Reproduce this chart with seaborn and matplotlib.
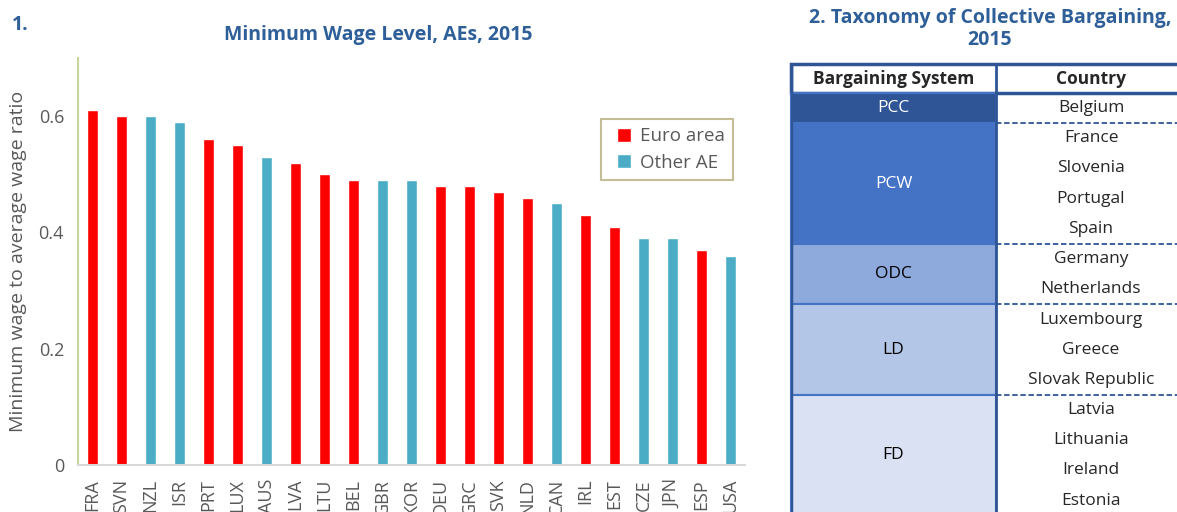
import matplotlib
matplotlib.use("Agg")
import matplotlib.pyplot as plt
import seaborn as sns
import pandas as pd
from matplotlib.patches import Rectangle
from matplotlib.lines import Line2D

# données du graphique 1
pays = ["FRA", "SVN", "NZL", "ISR", "PRT", "LUX", "AUS", "LVA", "LTU", "BEL", "GBR", "KOR",
        "DEU", "GRC", "SVK", "NLD", "CAN", "IRL", "EST", "CZE", "JPN", "ESP", "USA"]
ratio = [0.61, 0.60, 0.60, 0.59, 0.56, 0.55, 0.53, 0.52, 0.50, 0.49, 0.49, 0.49,
         0.48, 0.48, 0.47, 0.46, 0.45, 0.43, 0.41, 0.39, 0.39, 0.37, 0.36]
groupe = ["Euro area", "Euro area", "Other AE", "Other AE", "Euro area", "Euro area", "Other AE",
          "Euro area", "Euro area", "Euro area", "Other AE", "Other AE", "Euro area", "Euro area",
          "Euro area", "Euro area", "Other AE", "Euro area", "Euro area", "Other AE", "Other AE",
          "Euro area", "Other AE"]
couleurs = {"Euro area": "#FF0000", "Other AE": "#4BACC6"}

# données du tableau 2
systemes = ["PCC", "PCW", "ODC", "LD", "FD"]
pays_systeme = [["Belgium"],
                ["France", "Slovenia", "Portugal", "Spain"],
                ["Germany", "Netherlands"],
                ["Luxembourg", "Greece", "Slovak Republic"],
                ["Latvia", "Lithuania", "Ireland", "Estonia"]]
couleurs_systeme = ["#2F5597", "#4472C4", "#8EA9DB", "#B4C6E7", "#D9E1F2"]
texte_blanc = ["PCC", "PCW"]

sns.set_style("white")
plt.rcParams["font.family"] = ["Open Sans", "DejaVu Sans"]

bleu_titre = "#2F5F98"
gris = "#595959"

fig = plt.figure(figsize=(11.77, 5.12), dpi=100)

# Graphique 1
ax = fig.add_axes([78 / 1177, 1 - 465 / 512, 667 / 1177, 407 / 512])
df = pd.DataFrame({"pays": pays, "ratio": ratio, "groupe": groupe})
sns.barplot(data=df, x="pays", y="ratio", hue="groupe", palette=couleurs, dodge=False,
            width=0.35, ax=ax, legend=False, saturation=1)
ax.set_xlim(-0.5, len(pays) - 0.5)
ax.set_ylim(0, 0.70)
ax.set_yticks([0, 0.2, 0.4, 0.6])
ax.set_yticklabels(["0", "0.2", "0.4", "0.6"])
ax.set_xlabel("")
ax.set_ylabel("Minimum wage to average wage ratio", fontsize=14, color=gris, labelpad=8)
ax.tick_params(axis="x", rotation=90, labelsize=13, labelcolor=gris, length=0, pad=10)
ax.tick_params(axis="y", labelsize=13, labelcolor=gris, length=5, color="#C3D69B", width=1.5,
               direction="out", pad=5)
ax.spines["top"].set_visible(False)
ax.spines["right"].set_visible(False)
ax.spines["left"].set_color("#C3D69B")
ax.spines["left"].set_linewidth(1.5)
ax.spines["bottom"].set_color("#D9D9D9")
ax.spines["bottom"].set_linewidth(1.5)

poignees = [Line2D([0], [0], marker="s", color="w", markerfacecolor=couleurs[k], markersize=10, label=k)
            for k in couleurs]
leg = ax.legend(handles=poignees, loc="upper right", bbox_to_anchor=(0.996, 0.874), fontsize=13.5,
                frameon=True, fancybox=False, framealpha=1, edgecolor="#C4BD97",
                handletextpad=0.1, borderpad=0.45, labelspacing=0.45, handlelength=1.5)
leg.get_frame().set_linewidth(1.5)
for t in leg.get_texts():
    t.set_color(gris)

fig.text(12 / 1177, 1 - 25 / 512, "1.", fontsize=14, fontweight="bold", color=bleu_titre, va="center")
fig.text(378 / 1177, 1 - 35 / 512, "Minimum Wage Level, AEs, 2015", fontsize=14, fontweight="bold",
         color=bleu_titre, ha="center", va="center")

# Tableau 2
fig.text(990 / 1177, 1 - 29 / 512, "2. Taxonomy of Collective Bargaining,\n2015", fontsize=14,
         fontweight="bold", color=bleu_titre, ha="center", va="center", linespacing=1.15)

W = 395
H = 448
col1 = 205
h_entete = 29
h_ligne = 30.2
bleu_bord = "#2F5597"

tab = fig.add_axes([791 / 1177, 0, W / 1177, H / 512])
tab.set_xlim(0, W)
tab.set_ylim(H, 0)
tab.axis("off")

tab.add_patch(Rectangle((0, 0), W, h_entete, facecolor="white", edgecolor=bleu_bord, lw=2.5, clip_on=False))
tab.text(col1 / 2, h_entete / 2, "Bargaining System", ha="center", va="center", fontsize=12.5, fontweight="bold")
tab.text((col1 + W) / 2, h_entete / 2, "Country", ha="center", va="center", fontsize=12.5, fontweight="bold")

debut = 0
for i, (s, liste) in enumerate(zip(systemes, pays_systeme)):
    y0 = h_entete + debut * h_ligne
    hauteur = len(liste) * h_ligne
    tab.add_patch(Rectangle((0, y0), col1, hauteur, facecolor=couleurs_systeme[i], edgecolor="#4472C4",
                            lw=1.5, clip_on=False))
    tab.text(col1 / 2, y0 + hauteur / 2, s, ha="center", va="center", fontsize=12.5,
             color="white" if s in texte_blanc else "black")
    for j, c in enumerate(liste):
        tab.text((col1 + W) / 2, y0 + (j + 0.5) * h_ligne, c, ha="center", va="center", fontsize=12.5)
    if i < len(systemes) - 1:
        tab.plot([col1, W], [y0 + hauteur, y0 + hauteur], color=bleu_bord, lw=1.3, ls=(0, (3, 1.5)))
    debut += len(liste)
tab.plot([0, 0], [0, H], color=bleu_bord, lw=2.5)
tab.plot([col1, col1], [0, H], color=bleu_bord, lw=2)

fig.savefig("out.png", dpi=100)
